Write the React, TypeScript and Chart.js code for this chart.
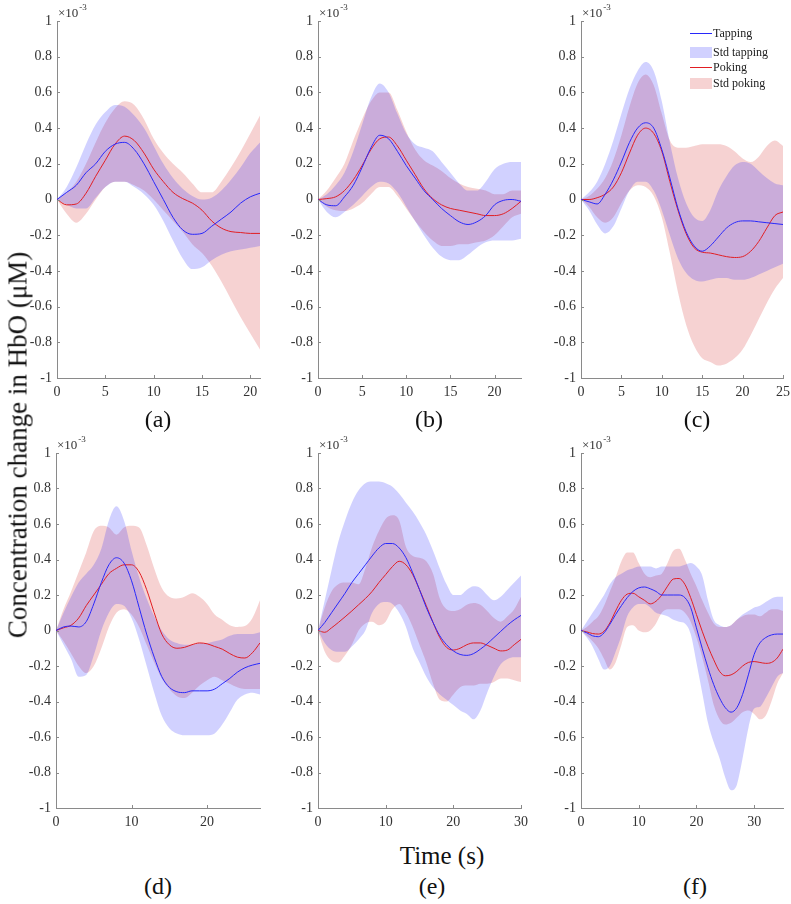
import React, { useEffect, useRef } from "react";
import { Chart, registerables } from "chart.js";

Chart.register(...registerables);

// ---------------- data (values in units of 1e-3 µM) ----------------
const timeA = [0, 1, 2, 3, 4, 5, 6, 7, 8, 9, 10, 11, 12, 13, 14, 15, 16, 17, 18, 19, 20, 21];
const tapA = [0, 0.04, 0.08, 0.15, 0.2, 0.27, 0.31, 0.32, 0.28, 0.2, 0.1, 0.0, -0.1, -0.17, -0.195, -0.19, -0.15, -0.11, -0.07, -0.02, 0.015, 0.035];
const tapUpA = [0, 0.07, 0.18, 0.31, 0.42, 0.49, 0.53, 0.52, 0.47, 0.4, 0.3, 0.2, 0.12, 0.06, 0.02, 0.0, 0.01, 0.05, 0.11, 0.18, 0.26, 0.32];
const tapLoA = [0, -0.03, -0.05, -0.05, 0.01, 0.07, 0.1, 0.1, 0.07, 0.03, -0.03, -0.12, -0.23, -0.33, -0.39, -0.38, -0.34, -0.31, -0.29, -0.28, -0.27, -0.26];
const pokA = [0, -0.03, -0.025, 0.035, 0.13, 0.22, 0.31, 0.355, 0.33, 0.26, 0.17, 0.1, 0.04, 0.005, -0.02, -0.06, -0.12, -0.16, -0.18, -0.185, -0.19, -0.19];
const pokUpA = [0, 0.04, 0.1, 0.2, 0.32, 0.43, 0.51, 0.55, 0.53, 0.45, 0.34, 0.26, 0.2, 0.15, 0.09, 0.04, 0.04, 0.1, 0.18, 0.27, 0.37, 0.47];
const pokLoA = [0, -0.08, -0.13, -0.08, 0.0, 0.07, 0.1, 0.1, 0.08, 0.05, 0.0, -0.06, -0.12, -0.18, -0.25, -0.3, -0.37, -0.46, -0.56, -0.66, -0.75, -0.84];

const timeB = [0, 1, 2, 3, 4, 5, 6, 7, 8, 9, 10, 11, 12, 13, 14, 15, 16, 17, 18, 19, 20, 21, 22, 23];
const tapB = [0, -0.03, -0.035, 0.015, 0.08, 0.18, 0.29, 0.36, 0.34, 0.27, 0.19, 0.12, 0.05, 0.0, -0.05, -0.09, -0.125, -0.14, -0.125, -0.09, -0.03, -0.005, 0.0, -0.01];
const tapUpB = [0, 0.03, 0.08, 0.15, 0.27, 0.42, 0.57, 0.65, 0.6, 0.48, 0.37, 0.31, 0.29, 0.27, 0.21, 0.15, 0.09, 0.05, 0.05, 0.1, 0.17, 0.2, 0.21, 0.21];
const tapLoB = [0, -0.07, -0.1, -0.07, -0.03, 0.02, 0.07, 0.1, 0.09, 0.04, -0.04, -0.12, -0.2, -0.27, -0.32, -0.34, -0.34, -0.31, -0.27, -0.24, -0.23, -0.23, -0.23, -0.22];
const pokB = [0, 0.005, 0.015, 0.05, 0.11, 0.19, 0.28, 0.34, 0.35, 0.3, 0.22, 0.14, 0.06, 0.005, -0.03, -0.05, -0.06, -0.07, -0.08, -0.09, -0.09, -0.08, -0.05, -0.01];
const pokUpB = [0, 0.05, 0.12, 0.2, 0.33, 0.45, 0.55, 0.6, 0.6, 0.5, 0.38, 0.28, 0.22, 0.19, 0.16, 0.12, 0.09, 0.07, 0.06, 0.05, 0.03, 0.03, 0.05, 0.05];
const pokLoB = [0, -0.04, -0.06, -0.065, -0.05, -0.02, 0.03, 0.07, 0.07, 0.02, -0.05, -0.12, -0.18, -0.23, -0.26, -0.26, -0.25, -0.25, -0.24, -0.23, -0.2, -0.15, -0.1, -0.08];

const timeC = [0, 1, 2, 3, 4, 5, 6, 7, 8, 9, 10, 11, 12, 13, 14, 15, 16, 17, 18, 19, 20, 21, 22, 23, 24, 25];
const tapC = [0, -0.013, -0.025, 0.03, 0.11, 0.21, 0.32, 0.4, 0.43, 0.4, 0.28, 0.12, -0.05, -0.18, -0.26, -0.29, -0.26, -0.21, -0.16, -0.13, -0.12, -0.12, -0.125, -0.13, -0.135, -0.14];
const tapUpC = [0, 0.04, 0.1, 0.2, 0.33, 0.48, 0.62, 0.72, 0.77, 0.72, 0.55, 0.32, 0.12, -0.02, -0.1, -0.12, -0.06, 0.05, 0.13, 0.19, 0.21, 0.2, 0.16, 0.12, 0.09, 0.08];
const tapLoC = [0, -0.06, -0.14, -0.19, -0.15, -0.05, 0.05, 0.1, 0.1, 0.05, -0.06, -0.2, -0.33, -0.41, -0.45, -0.46, -0.45, -0.44, -0.44, -0.45, -0.45, -0.44, -0.42, -0.4, -0.38, -0.36];
const pokC = [0, 0, 0.01, 0.03, 0.07, 0.15, 0.26, 0.36, 0.4, 0.37, 0.27, 0.1, -0.06, -0.19, -0.27, -0.295, -0.3, -0.31, -0.32, -0.325, -0.32, -0.29, -0.235, -0.16, -0.09, -0.07];
const pokUpC = [0, 0.02, 0.06, 0.12, 0.22, 0.36, 0.52, 0.65, 0.7, 0.64, 0.48, 0.33, 0.29, 0.29, 0.3, 0.31, 0.31, 0.31, 0.3, 0.27, 0.23, 0.21, 0.24, 0.3, 0.33, 0.3];
const pokLoC = [0, -0.04, -0.1, -0.13, -0.1, -0.02, 0.05, 0.08, 0.07, 0.02, -0.1, -0.3, -0.52, -0.7, -0.82, -0.89, -0.91, -0.93, -0.92, -0.89, -0.84, -0.76, -0.67, -0.58, -0.5, -0.44];

const timeD = [0, 1, 2, 3, 4, 5, 6, 7, 8, 9, 10, 11, 12, 13, 14, 15, 16, 17, 18, 19, 20, 21, 22, 23, 24, 25, 26, 27];
const tapD = [0, 0.02, 0.025, 0.02, 0.05, 0.15, 0.27, 0.37, 0.41, 0.38, 0.28, 0.13, -0.02, -0.15, -0.26, -0.32, -0.345, -0.35, -0.34, -0.34, -0.34, -0.33, -0.3, -0.27, -0.235, -0.21, -0.195, -0.185];
const tapUpD = [0, 0.1, 0.19, 0.27, 0.32, 0.37, 0.46, 0.62, 0.7, 0.62, 0.45, 0.3, 0.18, 0.08, 0.0, -0.05, -0.07, -0.08, -0.08, -0.07, -0.07, -0.06, -0.05, -0.03, -0.02, -0.02, -0.02, -0.01];
const tapLoD = [0, -0.08, -0.16, -0.26, -0.25, -0.14, 0.0, 0.1, 0.15, 0.14, 0.07, -0.05, -0.2, -0.35, -0.48, -0.55, -0.58, -0.59, -0.59, -0.59, -0.59, -0.58, -0.53, -0.46, -0.39, -0.36, -0.35, -0.36];
const pokD = [0, 0.015, 0.03, 0.07, 0.14, 0.2, 0.26, 0.32, 0.35, 0.37, 0.37, 0.33, 0.23, 0.1, -0.02, -0.08, -0.1, -0.095, -0.08, -0.07, -0.075, -0.09, -0.105, -0.13, -0.15, -0.155, -0.125, -0.07];
const pokUpD = [0, 0.12, 0.22, 0.33, 0.44, 0.56, 0.59, 0.58, 0.54, 0.58, 0.59, 0.58, 0.48, 0.35, 0.24, 0.19, 0.18, 0.19, 0.21, 0.19, 0.15, 0.09, 0.06, 0.03, 0.02, 0.025, 0.07, 0.17];
const pokLoD = [0, -0.06, -0.13, -0.2, -0.24, -0.2, -0.1, 0.02, 0.1, 0.12, 0.09, 0.02, -0.08, -0.18, -0.27, -0.33, -0.37, -0.38, -0.35, -0.31, -0.28, -0.26, -0.28, -0.3, -0.32, -0.33, -0.33, -0.33];

const timeE = [0, 1, 2, 3, 4, 5, 6, 7, 8, 9, 10, 11, 12, 13, 14, 15, 16, 17, 18, 19, 20, 21, 22, 23, 24, 25, 26, 27, 28, 29, 30];
const tapE = [0, 0.045, 0.1, 0.155, 0.21, 0.27, 0.32, 0.37, 0.42, 0.465, 0.49, 0.49, 0.465, 0.41, 0.325, 0.23, 0.13, 0.045, -0.03, -0.08, -0.115, -0.135, -0.14, -0.13, -0.105, -0.075, -0.04, -0.005, 0.03, 0.06, 0.085];
const tapUpE = [0, 0.17, 0.34, 0.5, 0.62, 0.72, 0.79, 0.83, 0.84, 0.84, 0.83, 0.81, 0.77, 0.72, 0.67, 0.61, 0.54, 0.45, 0.35, 0.26, 0.2, 0.2, 0.23, 0.25, 0.24, 0.2, 0.17, 0.19, 0.23, 0.27, 0.31];
const tapLoE = [0, -0.07, -0.11, -0.12, -0.12, -0.09, -0.05, 0.0, 0.1, 0.15, 0.16, 0.15, 0.1, 0.02, -0.1, -0.18, -0.26, -0.32, -0.36, -0.39, -0.42, -0.45, -0.47, -0.5, -0.45, -0.35, -0.26, -0.19, -0.16, -0.15, -0.15];
const pokE = [0, -0.01, 0.015, 0.045, 0.077, 0.11, 0.145, 0.18, 0.22, 0.27, 0.315, 0.36, 0.39, 0.37, 0.315, 0.23, 0.14, 0.045, -0.04, -0.095, -0.11, -0.1, -0.08, -0.07, -0.07, -0.083, -0.1, -0.115, -0.11, -0.08, -0.05];
const pokUpE = [0, 0.13, 0.22, 0.26, 0.27, 0.27, 0.26, 0.35, 0.47, 0.56, 0.63, 0.65, 0.62, 0.47, 0.42, 0.41, 0.39, 0.32, 0.18, 0.12, 0.11, 0.12, 0.145, 0.155, 0.145, 0.11, 0.07, 0.05, 0.08, 0.12, 0.19];
const pokLoE = [0, -0.12, -0.17, -0.18, -0.14, -0.08, 0.0, 0.04, 0.05, 0.03, 0.05, 0.12, 0.15, 0.1, 0.02, -0.08, -0.18, -0.3, -0.39, -0.4, -0.36, -0.32, -0.31, -0.31, -0.3, -0.3, -0.29, -0.27, -0.27, -0.28, -0.29];

const timeF = [0, 1, 2, 3, 4, 5, 6, 7, 8, 9, 10, 11, 12, 13, 14, 15, 16, 17, 18, 19, 20, 21, 22, 23, 24, 25, 26, 27, 28, 29, 30, 31, 32, 33, 34, 35];
const tapF = [0, -0.013, -0.03, -0.035, -0.013, 0.035, 0.09, 0.14, 0.185, 0.22, 0.24, 0.245, 0.235, 0.22, 0.2, 0.2, 0.2, 0.2, 0.185, 0.13, 0.015, -0.1, -0.21, -0.305, -0.38, -0.435, -0.46, -0.435, -0.36, -0.25, -0.135, -0.07, -0.04, -0.025, -0.02, -0.02];
const tapUpF = [0, 0.05, 0.1, 0.15, 0.2, 0.26, 0.3, 0.32, 0.34, 0.35, 0.36, 0.36, 0.36, 0.35, 0.36, 0.36, 0.36, 0.36, 0.37, 0.38, 0.36, 0.31, 0.17, 0.06, 0.03, 0.02, 0.03, 0.06, 0.09, 0.11, 0.13, 0.14, 0.16, 0.18, 0.19, 0.19];
const tapLoF = [0, -0.04, -0.09, -0.16, -0.22, -0.2, -0.12, -0.03, 0.08, 0.13, 0.15, 0.15, 0.13, 0.1, 0.09, 0.08, 0.06, 0.05, 0.04, -0.02, -0.18, -0.35, -0.52, -0.63, -0.72, -0.83, -0.9, -0.87, -0.72, -0.55, -0.44, -0.43, -0.38, -0.32, -0.26, -0.24];
const pokF = [0, -0.008, -0.017, -0.02, -0.004, 0.043, 0.11, 0.17, 0.205, 0.21, 0.19, 0.17, 0.15, 0.165, 0.2, 0.25, 0.29, 0.293, 0.26, 0.185, 0.09, -0.004, -0.09, -0.165, -0.23, -0.255, -0.25, -0.23, -0.2, -0.18, -0.175, -0.18, -0.185, -0.18, -0.155, -0.105];
const pokUpF = [0, 0.02, 0.05, 0.08, 0.14, 0.22, 0.3, 0.39, 0.44, 0.44, 0.38, 0.32, 0.3, 0.31, 0.32, 0.38, 0.45, 0.46, 0.4, 0.32, 0.25, 0.17, 0.1, 0.04, 0.02, 0.02, 0.03, 0.06, 0.08, 0.09, 0.09, 0.08, 0.1, 0.12, 0.12, 0.11];
const pokLoF = [0, -0.03, -0.06, -0.1, -0.16, -0.22, -0.18, -0.08, 0.02, 0.03, 0.0, -0.01, 0.0, 0.04, 0.1, 0.12, 0.12, 0.12, 0.1, 0.05, -0.04, -0.15, -0.28, -0.42, -0.5, -0.53, -0.52, -0.49, -0.46, -0.45, -0.47, -0.5, -0.48, -0.4, -0.3, -0.24];

const panelLabels = ["(a)", "(b)", "(c)", "(d)", "(e)", "(f)"];
const xMaxes = [21, 23, 25, 27, 30, 35];
const xSteps = [5, 5, 5, 10, 10, 10];
const yMin = -1;
const yMax = 1;
const yStep = 0.2;
const yExponent = ["×10", "-3"];
const legendLabels = ["Tapping", "Std tapping", "Poking", "Std poking"];
const xTitle = "Time (s)";
const yTitle = "Concentration change in HbO (μM)";

// ---------------- styles ----------------
const FONT = '"Liberation Serif", "Times New Roman", serif';
const BLUE = "rgb(40,40,250)";
const RED = "rgb(225,30,35)";
const BLUE_FILL = "rgba(0,0,255,0.18)";
const RED_FILL = "rgba(210,30,30,0.2)";
const AXIS = "#8a8a8a";
const TICK = "#333333";

const PAD_L = 45;
const PAD_T = 24;
const PAD_R = 14;
const PAD_B = 28;

// chart-area boxes (page pixels)
const boxes = [
  { left: 57, top: 21, width: 203, height: 357 },
  { left: 318, top: 21, width: 203, height: 357 },
  { left: 581, top: 21, width: 202, height: 357 },
  { left: 56, top: 453, width: 204, height: 355 },
  { left: 318, top: 453, width: 203, height: 355 },
  { left: 581, top: 453, width: 202, height: 355 },
];
const labelPos = [
  [158, 419], [429, 419], [697, 419],
  [158, 886], [432, 886], [695, 886],
];

type Series = { time: number[]; tap: number[]; tapUp: number[]; tapLo: number[]; pok: number[]; pokUp: number[]; pokLo: number[] };
const series: Series[] = [
  { time: timeA, tap: tapA, tapUp: tapUpA, tapLo: tapLoA, pok: pokA, pokUp: pokUpA, pokLo: pokLoA },
  { time: timeB, tap: tapB, tapUp: tapUpB, tapLo: tapLoB, pok: pokB, pokUp: pokUpB, pokLo: pokLoB },
  { time: timeC, tap: tapC, tapUp: tapUpC, tapLo: tapLoC, pok: pokC, pokUp: pokUpC, pokLo: pokLoC },
  { time: timeD, tap: tapD, tapUp: tapUpD, tapLo: tapLoD, pok: pokD, pokUp: pokUpD, pokLo: pokLoD },
  { time: timeE, tap: tapE, tapUp: tapUpE, tapLo: tapLoE, pok: pokE, pokUp: pokUpE, pokLo: pokLoE },
  { time: timeF, tap: tapF, tapUp: tapUpF, tapLo: tapLoF, pok: pokF, pokUp: pokUpF, pokLo: pokLoF },
];

const axisDecor = {
  id: "axisDecor",
  afterDraw(chart: any) {
    const { ctx, chartArea: a, scales } = chart;
    const x = scales.x;
    const y = scales.y;
    ctx.save();
    ctx.strokeStyle = AXIS;
    ctx.lineWidth = 1;
    ctx.beginPath();
    for (const t of y.ticks) {
      const py = Math.round(y.getPixelForValue(t.value)) + 0.5;
      ctx.moveTo(a.left, py);
      ctx.lineTo(a.left + 3, py);
    }
    for (const t of x.ticks) {
      const px = Math.round(x.getPixelForValue(t.value)) + 0.5;
      ctx.moveTo(px, a.bottom);
      ctx.lineTo(px, a.bottom - 3);
    }
    ctx.stroke();
    ctx.fillStyle = TICK;
    ctx.textAlign = "left";
    ctx.textBaseline = "alphabetic";
    ctx.font = `13px ${FONT}`;
    ctx.fillText(yExponent[0], a.left + 1, a.top - 4);
    const w = ctx.measureText(yExponent[0]).width;
    ctx.font = `9px ${FONT}`;
    ctx.fillText(yExponent[1], a.left + 2 + w, a.top - 11);
    ctx.restore();
  },
};

const pts = (t: number[], v: number[]) => t.map((x, i) => ({ x, y: v[i] }));

function Panel({ idx }: { idx: number }) {
  const ref = useRef<HTMLCanvasElement>(null);
  const b = boxes[idx];
  const cw = b.width + PAD_L + PAD_R;
  const ch = b.height + PAD_T + PAD_B;
  useEffect(() => {
    const s = series[idx];
    const common = { pointRadius: 0, cubicInterpolationMode: "monotone" as const };
    const chart = new Chart(ref.current!, {
      type: "line",
      data: {
        datasets: [
          { label: legendLabels[0], data: pts(s.time, s.tap), borderColor: BLUE, borderWidth: 1, fill: false, order: 0, ...common },
          { label: legendLabels[2], data: pts(s.time, s.pok), borderColor: RED, borderWidth: 1, fill: false, order: 1, ...common },
          { label: legendLabels[1], data: pts(s.time, s.tapUp), borderColor: "rgba(0,0,0,0)", borderWidth: 0, backgroundColor: BLUE_FILL, fill: "+1", order: 2, ...common },
          { label: legendLabels[1] + " lower", data: pts(s.time, s.tapLo), borderColor: "rgba(0,0,0,0)", borderWidth: 0, fill: false, order: 3, ...common },
          { label: legendLabels[3], data: pts(s.time, s.pokUp), borderColor: "rgba(0,0,0,0)", borderWidth: 0, backgroundColor: RED_FILL, fill: "+1", order: 4, ...common },
          { label: legendLabels[3] + " lower", data: pts(s.time, s.pokLo), borderColor: "rgba(0,0,0,0)", borderWidth: 0, fill: false, order: 5, ...common },
        ],
      },
      options: {
        animation: false,
        responsive: false,
        maintainAspectRatio: false,
        devicePixelRatio: 1,
        events: [],
        layout: { padding: { top: PAD_T, right: PAD_R, left: 0, bottom: 0 } },
        plugins: { legend: { display: false }, tooltip: { enabled: false } },
        scales: {
          x: {
            type: "linear",
            min: 0,
            max: xMaxes[idx],
            afterFit: (sc: any) => { sc.height = PAD_B; },
            grid: { display: false, drawTicks: false },
            border: { display: true, color: AXIS, width: 1 },
            ticks: {
              stepSize: xSteps[idx],
              includeBounds: false,
              autoSkip: false,
              maxRotation: 0,
              color: TICK,
              font: { family: FONT, size: 14 },
              padding: 6,
            },
          },
          y: {
            type: "linear",
            min: yMin,
            max: yMax,
            afterFit: (sc: any) => { sc.width = PAD_L; },
            grid: { display: false, drawTicks: false },
            border: { display: true, color: AXIS, width: 1 },
            ticks: {
              stepSize: yStep,
              autoSkip: false,
              color: TICK,
              font: { family: FONT, size: 14 },
              padding: 5,
              callback: (v: any) => {
                const r = Math.round(Number(v) * 10) / 10;
                return r === 0 ? "0" : String(r);
              },
            },
          },
        },
      },
      plugins: [axisDecor],
    } as any);
    return () => chart.destroy();
  }, [idx]);
  return (
    <canvas
      ref={ref}
      width={cw}
      height={ch}
      style={{ position: "absolute", left: b.left - PAD_L, top: b.top - PAD_T, width: cw, height: ch }}
    />
  );
}

function Legend() {
  const base: React.CSSProperties = { position: "absolute", fontFamily: FONT, fontSize: 12, color: "#222", lineHeight: "12px", whiteSpace: "nowrap" };
  const rows = [
    { y: 33, kind: "line", color: BLUE, label: legendLabels[0] },
    { y: 52, kind: "patch", color: BLUE_FILL, label: legendLabels[1] },
    { y: 67, kind: "line", color: RED, label: legendLabels[2] },
    { y: 83, kind: "patch", color: RED_FILL, label: legendLabels[3] },
  ];
  return (
    <>
      {rows.map((r) => (
        <React.Fragment key={r.label}>
          {r.kind === "line" ? (
            <div style={{ position: "absolute", left: 690, top: r.y, width: 22, height: 1, background: r.color }} />
          ) : (
            <div style={{ position: "absolute", left: 690, top: r.y - 5, width: 22, height: 11, background: r.color }} />
          )}
          <div style={{ ...base, left: 713, top: r.y - 6 }}>{r.label}</div>
        </React.Fragment>
      ))}
    </>
  );
}

export default function App() {
  return (
    <div style={{ position: "absolute", left: 0, top: 0, width: 791, height: 904, background: "#fff", overflow: "hidden" }}>
      {boxes.map((_, i) => (
        <Panel key={i} idx={i} />
      ))}
      {panelLabels.map((l, i) => (
        <div
          key={l}
          style={{
            position: "absolute",
            left: labelPos[i][0],
            top: labelPos[i][1],
            transform: "translate(-50%,-50%)",
            fontFamily: FONT,
            fontSize: 24,
            lineHeight: 1,
            color: "#111",
            whiteSpace: "nowrap",
          }}
        >
          {l}
        </div>
      ))}
      <div
        style={{
          position: "absolute",
          left: 442,
          top: 855,
          transform: "translate(-50%,-50%)",
          fontFamily: FONT,
          fontSize: 25,
          lineHeight: 1,
          color: "#111",
          whiteSpace: "nowrap",
        }}
      >
        {xTitle}
      </div>
      <div
        style={{
          position: "absolute",
          left: 18,
          top: 445,
          transform: "translate(-50%,-50%) rotate(-90deg)",
          fontFamily: FONT,
          fontSize: 27,
          lineHeight: 1,
          color: "#111",
          whiteSpace: "nowrap",
        }}
      >
        {yTitle}
      </div>
      <Legend />
    </div>
  );
}
